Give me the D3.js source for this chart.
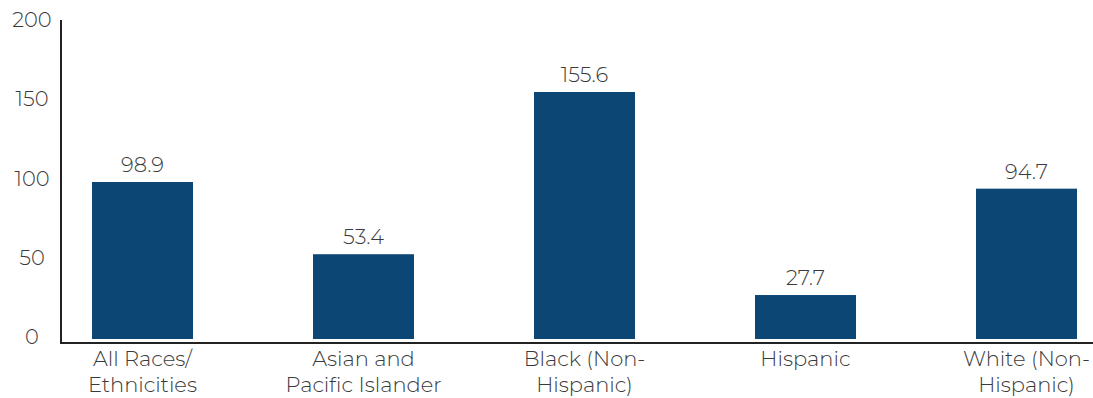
<!DOCTYPE html>
<html><head><meta charset="utf-8">
<script src="https://cdn.jsdelivr.net/npm/d3@7"></script>
<style>body{margin:0;background:#fff}svg{display:block}text{font-family:Montserrat,"Noto Sans",Lato,sans-serif;fill:#3a3a3a;font-weight:300}</style>
</head><body><svg id="c" width="1093" height="398"></svg>
<script>
const categories = [["All Races/","Ethnicities"],["Asian and","Pacific Islander"],["Black (Non-","Hispanic)"],["Hispanic"],["White (Non-","Hispanic)"]];
const values = [98.9, 53.4, 155.6, 27.7, 94.7];
const yTicks = [0, 50, 100, 150, 200];

const svg = d3.select("#c");
const keys = categories.map((c,i)=>i);
const x = d3.scaleBand().domain(keys).range([32, 1137]).paddingInner(0.543).paddingOuter(0.2715);
const y = d3.scaleLinear().domain([0, 200]).range([339, 21.5]);

svg.append("line").attr("x1",61).attr("x2",61).attr("y1",20).attr("y2",344).attr("stroke","#222").attr("stroke-width",2);
svg.append("line").attr("x1",60).attr("x2",1093).attr("y1",343).attr("y2",343).attr("stroke","#222").attr("stroke-width",2);

svg.selectAll(".yt").data(yTicks).join("text")
  .attr("x",32).attr("y",d=>y(d)-2).attr("dy","0.35em").attr("text-anchor","middle")
  .attr("font-size",21).text(d=>d);

svg.selectAll(".bar").data(values).join("rect")
  .attr("x",(d,i)=>x(i)).attr("width",x.bandwidth())
  .attr("y",d=>y(d)).attr("height",d=>y(0)-y(d)).attr("fill","#0c4675");

svg.selectAll(".val").data(values).join("text")
  .attr("x",(d,i)=>x(i)+x.bandwidth()/2).attr("y",d=>y(d)-10)
  .attr("text-anchor","middle").attr("font-size",21).text(d=>d.toFixed(1));

const g = svg.selectAll(".cat").data(categories).join("text")
  .attr("text-anchor","middle").attr("font-size",21);
g.each(function(lines,i){
  const t = d3.select(this);
  lines.forEach((l,j)=>{
    t.append("tspan").attr("x",x(i)+x.bandwidth()/2).attr("y",366+j*26).text(l);
  });
});
</script></body></html>
